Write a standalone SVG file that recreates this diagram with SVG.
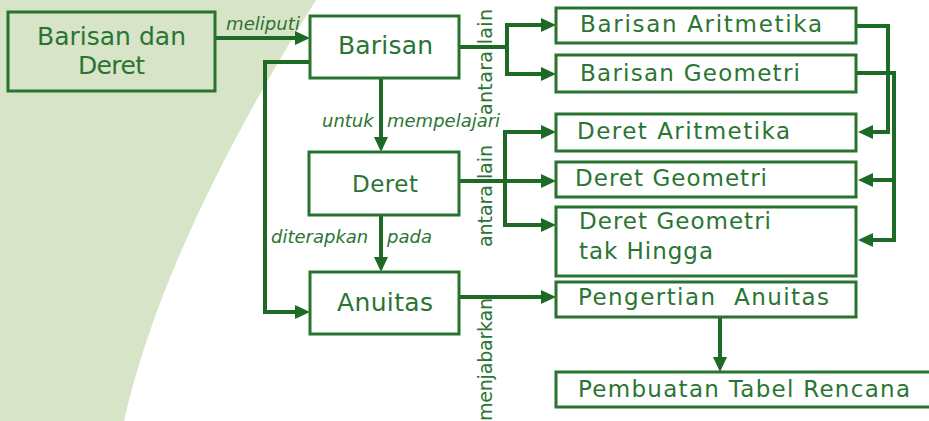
<svg xmlns="http://www.w3.org/2000/svg" width="929" height="421" viewBox="0 0 929 421">
<style>
.box{fill:#fff;stroke:#27732f;stroke-width:3}
.t{font-family:"DejaVu Sans",sans-serif;fill:#2a7533;font-size:23px}
.big{font-size:25px}
.it{font-family:"DejaVu Sans",sans-serif;font-style:italic;fill:#2a7533;font-size:18px}
.v{font-family:"DejaVu Sans",sans-serif;fill:#2a7533;font-size:19px}
.c{fill:none;stroke:#1d6a27;stroke-width:4;stroke-linejoin:miter}
.a{marker-end:url(#arr)}
.ab{marker-start:url(#arr);marker-end:url(#arr)}
</style>
<defs>
<marker id="arr" markerUnits="userSpaceOnUse" markerWidth="16" markerHeight="16" refX="7" refY="7" orient="auto-start-reverse">
<path d="M0,0 L15,7 L0,14 z" fill="#1d6a27"/>
</marker>
</defs>
<path d="M0,0 L316,0 Q164,243 124,421 L0,421 Z" fill="#d8e4c8"/>
<g id="connectors">
<path class="c a" d="M215,38 H302"/>
<path class="c a" d="M310,62 H265 V312 H302"/>
<path class="c" d="M459,47 H507"/>
<path class="c ab" d="M548,25 H507 V74 H548"/>
<path class="c a" d="M381,78 V144"/>
<path class="c a" d="M459,181 H548"/>
<path class="c ab" d="M548,132 H505 V225 H548"/>
<path class="c a" d="M381,215 V264"/>
<path class="c a" d="M459,297 H548"/>
<path class="c a" d="M720,317 V364"/>
<path class="c a" d="M856,26 H888 V132 H866"/>
<path class="c a" d="M856,73 H894 V240 H866"/>
<path class="c a" d="M894,180 H866"/>
</g>
<g id="labels">
<text class="it" x="226" y="30" textLength="74" lengthAdjust="spacingAndGlyphs">meliputi</text>
<text class="it" y="127"><tspan x="322">untuk</tspan> <tspan x="387">mempelajari</tspan></text>
<text class="it" y="243"><tspan x="271">diterapkan</tspan> <tspan x="387">pada</tspan></text>
<text class="v" transform="translate(492,115) rotate(-90)" textLength="106">antara lain</text>
<text class="v" transform="translate(492,247) rotate(-90)" textLength="102">antara lain</text>
<text class="v" transform="translate(492,421) rotate(-90)" textLength="123">menjabarkan</text>
</g>
<g id="n-barisan-dan-deret">
<rect x="8" y="12" width="207" height="79" fill="none" stroke="#27732f" stroke-width="3"/>
<text class="t big" x="37" y="45" textLength="149">Barisan dan</text>
<text class="t big" x="78" y="74" textLength="67">Deret</text>
</g>
<g id="n-barisan">
<rect class="box" x="310" y="16" width="149" height="62"/>
<text class="t big" x="338" y="54" textLength="95">Barisan</text>
</g>
<g id="n-deret">
<rect class="box" x="309" y="152" width="150" height="63"/>
<text class="t" x="352" y="192" font-size="24" textLength="66">Deret</text>
</g>
<g id="n-anuitas">
<rect class="box" x="310" y="272" width="149" height="62"/>
<text class="t big" x="337" y="311" textLength="96">Anuitas</text>
</g>
<g id="n-barisan-aritmetika">
<rect class="box" x="556" y="8" width="300" height="35"/>
<text class="t" x="580" y="32" textLength="242">Barisan Aritmetika</text>
</g>
<g id="n-barisan-geometri">
<rect class="box" x="556" y="55" width="300" height="37"/>
<text class="t" x="580" y="81" textLength="220">Barisan Geometri</text>
</g>
<g id="n-deret-aritmetika">
<rect class="box" x="556" y="114" width="300" height="37"/>
<text class="t" x="577" y="139" textLength="213">Deret Aritmetika</text>
</g>
<g id="n-deret-geometri">
<rect class="box" x="556" y="162" width="300" height="35"/>
<text class="t" x="575" y="186" textLength="192">Deret Geometri</text>
</g>
<g id="n-deret-geometri-tak-hingga">
<rect class="box" x="556" y="207" width="300" height="69"/>
<text class="t" x="579" y="229" textLength="192">Deret Geometri</text>
<text class="t" x="579" y="259" textLength="134">tak Hingga</text>
</g>
<g id="n-pengertian-anuitas">
<rect class="box" x="556" y="282" width="300" height="35"/>
<text class="t" x="578" y="305" textLength="251" xml:space="preserve">Pengertian  Anuitas</text>
</g>
<g id="n-pembuatan-tabel">
<rect class="box" x="556" y="372" width="380" height="35"/>
<text class="t" x="578" y="397" textLength="332">Pembuatan Tabel Rencana</text>
</g>
</svg>
